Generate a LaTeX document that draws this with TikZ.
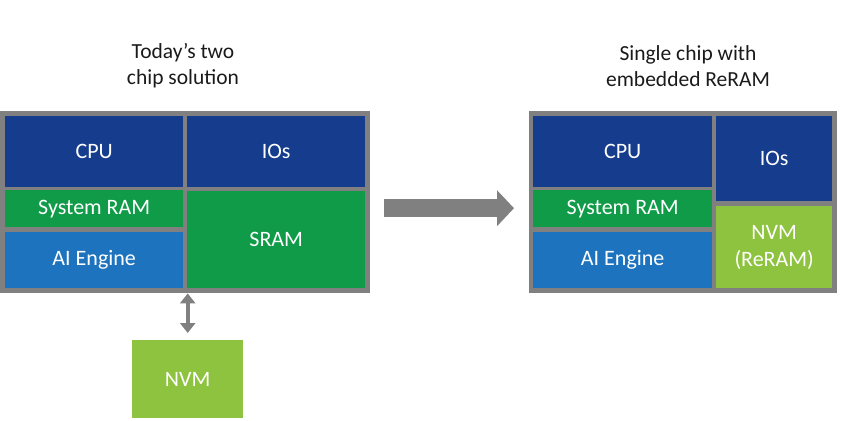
\documentclass[tikz,border=0pt]{standalone}
\usepackage{fontspec}
\setmainfont{Carlito}
\usepackage{tikz}
\usetikzlibrary{arrows.meta, positioning}

\definecolor{cpublue}{RGB}{22,60,141}
\definecolor{ramgreen}{RGB}{16,155,72}
\definecolor{aiblue}{RGB}{30,115,190}
\definecolor{nvmlime}{RGB}{141,195,62}
\definecolor{chipgray}{RGB}{128,128,128}
\definecolor{titletext}{RGB}{26,26,26}

\begin{document}
\begin{tikzpicture}[
  x=1pt, y=-1pt,
  chip/.style={rectangle, fill=chipgray, inner sep=0pt, anchor=north west},
  cell/.style={rectangle, inner sep=0pt, anchor=north west, text=white,
               font=\fontsize{22}{27}\selectfont, align=center},
  title/.style={font=\fontsize{21.5}{26}\selectfont, text=titletext, align=center},
  dblarrow/.style={{Triangle[width=15pt,length=10pt]}-{Triangle[width=15pt,length=10pt]},
                   line width=4pt, draw=chipgray},
  bigarrow/.style={-{Triangle[width=35pt,length=17pt]}, line width=18pt, draw=chipgray},
]
  \useasboundingbox (0,0) rectangle (858,420);

  % titles
  \node[title] (titleL) at (183,66) {Today’s two\\chip solution};
  \node[title] (titleR) at (688,66) {Single chip with\\embedded ReRAM};

  % two chip solution
  \node[chip, minimum width=370pt, minimum height=182pt] (chipL) at (0,111) {};
  \node[cell, fill=cpublue, minimum width=178pt, minimum height=71pt] (cpuL) at (5,116) {CPU};
  \node[cell, fill=cpublue, minimum width=178pt, minimum height=71pt] (iosL) at (187,116) {IOs};
  \node[cell, fill=ramgreen, minimum width=178pt, minimum height=37pt] (ramL) at (5,190) {System RAM};
  \node[cell, fill=aiblue, minimum width=178pt, minimum height=56pt] (aiL) at (5,232) {AI Engine};
  \node[cell, fill=ramgreen, minimum width=178pt, minimum height=97pt] (sramL) at (187,191) {SRAM};
  \node[cell, fill=nvmlime, minimum width=111pt, minimum height=78pt] (nvmL) at (132,340) {NVM};

  % single chip
  \node[chip, minimum width=308pt, minimum height=182pt] (chipR) at (529,111) {};
  \node[cell, fill=cpublue, minimum width=179pt, minimum height=71pt] (cpuR) at (533,116) {CPU};
  \node[cell, fill=cpublue, minimum width=116pt, minimum height=85pt] (iosR) at (716,116) {IOs};
  \node[cell, fill=ramgreen, minimum width=179pt, minimum height=37pt] (ramR) at (533,190) {System RAM};
  \node[cell, fill=aiblue, minimum width=179pt, minimum height=56pt] (aiR) at (533,232) {AI Engine};
  \node[cell, fill=nvmlime, minimum width=116pt, minimum height=82pt] (nvmR) at (716,206) {NVM\\(ReRAM)};

  \draw[dblarrow, shorten >=7pt] (nvmL.north |- chipL.south) -- (nvmL.north);
  \draw[bigarrow, shorten <=14pt, shorten >=15pt]
    ([yshift=-6pt]chipL.east) -- ([yshift=-6pt]chipR.west);
\end{tikzpicture}
\end{document}
